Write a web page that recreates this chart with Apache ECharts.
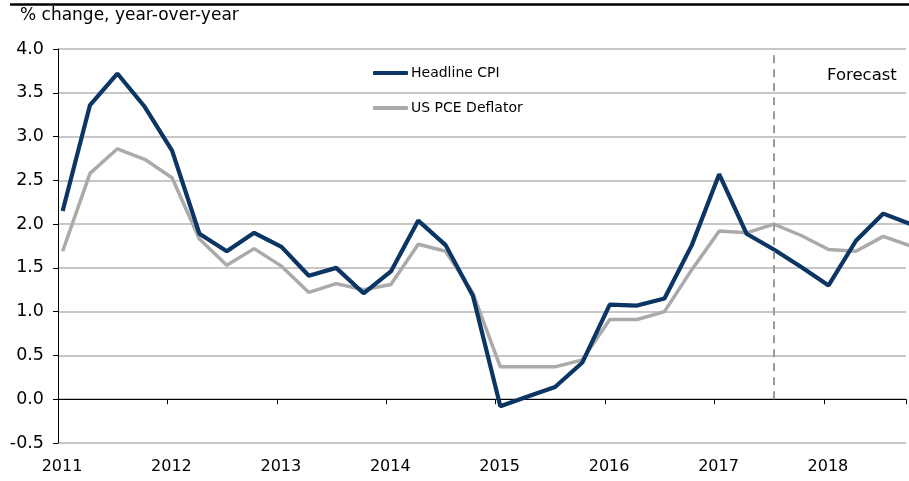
<!DOCTYPE html>
<html>
<head>
<meta charset="utf-8">
<script src="https://cdn.jsdelivr.net/npm/echarts@6/dist/echarts.min.js"></script>
<style>
  html, body { margin: 0; padding: 0; background: #fff; }
  #chart { width: 909px; height: 481px; }
</style>
</head>
<body>
<div id="chart"></div>
<script>
// quarterly data, 2011Q1 .. 2018Q4
var quarters = [
  '2011Q1', '2011Q2', '2011Q3', '2011Q4',
  '2012Q1', '2012Q2', '2012Q3', '2012Q4',
  '2013Q1', '2013Q2', '2013Q3', '2013Q4',
  '2014Q1', '2014Q2', '2014Q3', '2014Q4',
  '2015Q1', '2015Q2', '2015Q3', '2015Q4',
  '2016Q1', '2016Q2', '2016Q3', '2016Q4',
  '2017Q1', '2017Q2', '2017Q3', '2017Q4',
  '2018Q1', '2018Q2', '2018Q3', '2018Q4'
];
var headlineCPI = [
  2.15, 3.36, 3.72, 3.34,
  2.84, 1.89, 1.69, 1.90,
  1.74, 1.41, 1.50, 1.21,
  1.46, 2.04, 1.76, 1.18,
  -0.08, 0.03, 0.14, 0.42,
  1.08, 1.07, 1.15, 1.76,
  2.57, 1.89, 1.71, 1.51,
  1.30, 1.81, 2.12, 2.00
];
var pceDeflator = [
  1.69, 2.58, 2.86, 2.74,
  2.53, 1.83, 1.53, 1.72,
  1.52, 1.22, 1.32, 1.25,
  1.31, 1.77, 1.69, 1.21,
  0.37, 0.37, 0.37, 0.45,
  0.91, 0.91, 1.00, 1.48,
  1.92, 1.90, 2.00, 1.87,
  1.71, 1.69, 1.86, 1.75
];
var yearLabels = ['2011', '2012', '2013', '2014', '2015', '2016', '2017', '2018'];
var forecastStart = '2017Q3';

var FONT = 'DejaVu Sans';
var pointOffset = 0.17; // points sit slightly after the year tick

function toPoints(values) {
  return values.map(function (v, i) { return [i + pointOffset, v]; });
}

var chart = echarts.init(document.getElementById('chart'));
var forecastX = quarters.indexOf(forecastStart) + pointOffset;

var option = {
  animation: false,
  backgroundColor: '#fff',
  grid: { left: 58, right: 0, top: 49, bottom: 38 },
  legend: {
    orient: 'vertical',
    left: 368,
    top: 60,
    icon: 'roundRect',
    itemWidth: 35,
    itemHeight: 4,
    itemGap: 19,
    data: ['Headline CPI', 'US PCE Deflator'],
    textStyle: { fontFamily: FONT, fontSize: 14, color: '#000', lineHeight: 16, padding: [0, 0, 0, -2] }
  },
  xAxis: [
    {
      type: 'value',
      position: 'bottom',
      min: 0,
      max: 31,
      interval: 4,
      axisLine: { onZero: true, lineStyle: { color: '#000', width: 1 } },
      axisTick: { show: true, length: 5, lineStyle: { color: '#000' } },
      axisLabel: { show: false },
      splitLine: { show: false }
    },
    {
      type: 'value',
      position: 'bottom',
      min: 0,
      max: 31,
      interval: 4,
      axisLine: { show: false, onZero: false },
      axisTick: { show: false },
      splitLine: { show: false },
      axisLabel: {
        margin: 16,
        fontFamily: FONT,
        fontSize: 16,
        color: '#000',
        padding: [0, 0, 0, 8],
        formatter: function (v) {
          return v % 4 === 0 ? yearLabels[v / 4] || '' : '';
        }
      }
    }
  ],
  yAxis: {
    type: 'value',
    min: -0.5,
    max: 4,
    interval: 0.5,
    axisLine: { show: true, lineStyle: { color: '#000', width: 1 } },
    axisTick: { show: true, length: 5, lineStyle: { color: '#000' } },
    axisLabel: {
      margin: 14,
      fontFamily: FONT,
      fontSize: 17.5,
      color: '#000',
      formatter: function (v) { return v.toFixed(1); }
    },
    splitLine: { show: true, lineStyle: { color: '#b4b4b4', width: 1.5 } }
  },
  series: [
    {
      name: 'Headline CPI',
      type: 'line',
      z: 3,
      data: toPoints(headlineCPI),
      showSymbol: false,
      symbol: 'none',
      lineStyle: { color: '#0b3563', width: 4.2 },
      itemStyle: { color: '#0b3563' }
    },
    {
      name: 'US PCE Deflator',
      type: 'line',
      z: 2,
      data: toPoints(pceDeflator),
      showSymbol: false,
      symbol: 'none',
      lineStyle: { color: '#aaaaaa', width: 3.5 },
      itemStyle: { color: '#aaaaaa' },
      markLine: {
        silent: true,
        symbol: 'none',
        label: { show: false },
        lineStyle: { color: '#9a9a9a', width: 2, type: [8, 6] },
        data: [[{ coord: [forecastX, 0] }, { coord: [forecastX, 4] }]]
      }
    }
  ],
  graphic: [
    {
      type: 'line',
      shape: { x1: 10, y1: 4.5, x2: 909, y2: 4.5 },
      style: { stroke: '#000', lineWidth: 2.5 }
    },
    {
      type: 'text',
      left: 20,
      top: 7,
      style: { text: '% change, year-over-year', font: '17px "DejaVu Sans"', fill: '#000' }
    },
    {
      type: 'text',
      left: 827,
      top: 67,
      style: { text: 'Forecast', font: '16.5px "DejaVu Sans"', fill: '#000' }
    }
  ]
};

chart.setOption(option);
</script>
</body>
</html>
